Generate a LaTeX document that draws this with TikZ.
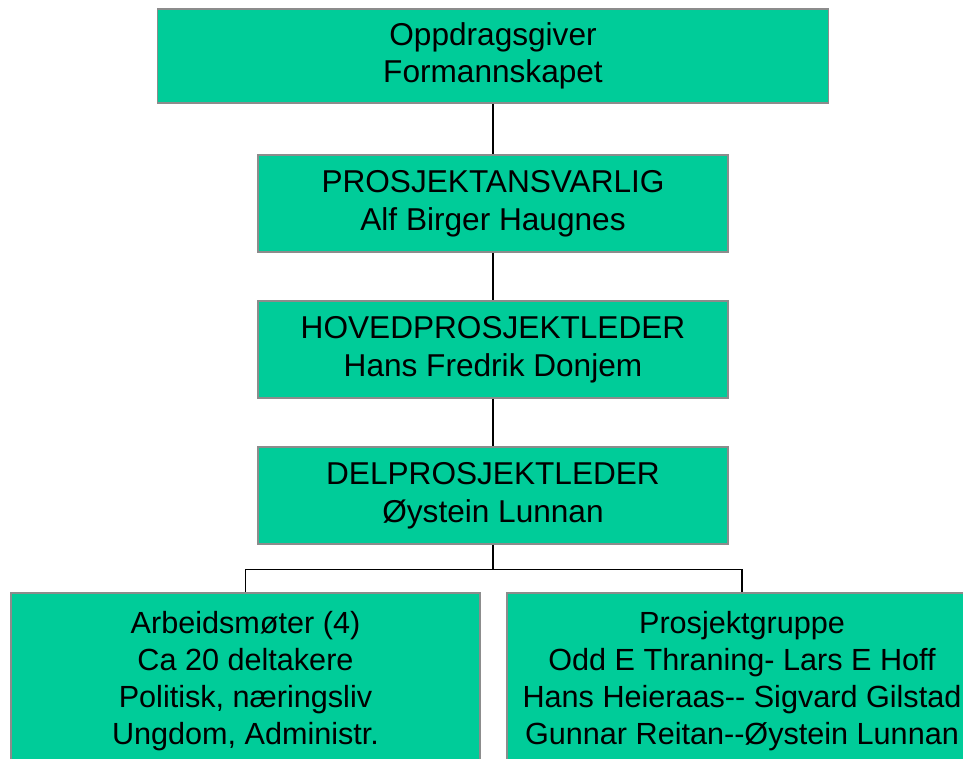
\documentclass[tikz,border=0pt]{standalone}
\usepackage{fontspec}
\setmainfont{Liberation Sans}
\definecolor{boxgreen}{RGB}{0,204,153}
\definecolor{boxedge}{RGB}{140,140,140}
\begin{document}
\begin{tikzpicture}[x=1pt,y=-1pt,
  orgbox/.style={draw=boxedge, line width=1.5pt, fill=boxgreen, inner sep=0pt,
    align=center, font=\fontsize{31.6}{37.5}\selectfont, text=black},
  lowbox/.style={orgbox, font=\fontsize{30.6}{37}\selectfont},
  link/.style={draw=black, line width=1.3pt}]
\useasboundingbox (0,0) rectangle (963,758);
\clip (0,0) rectangle (963,758);
\node[orgbox, minimum width=671pt, minimum height=94pt] (o) at (493,56)
  {Oppdragsgiver\\Formannskapet};
\node[orgbox, minimum width=470pt, minimum height=97pt] (pa) at (493,203.5)
  {PROSJEKTANSVARLIG\\Alf Birger Haugnes};
\node[orgbox, minimum width=470pt, minimum height=97pt] (hp) at (493,349.5)
  {HOVEDPROSJEKTLEDER\\Hans Fredrik Donjem};
\node[orgbox, minimum width=470pt, minimum height=97pt] (dp) at (493,495.5)
  {DELPROSJEKTLEDER\\Øystein Lunnan};
\node[lowbox, minimum width=469pt, minimum height=176pt] (am) at (245.5,681)
  {Arbeidsmøter (4)\\Ca 20 deltakere\\Politisk, næringsliv\\Ungdom, Administr.};
\node[lowbox, minimum width=470pt, minimum height=176pt] (pg) at (742,681)
  {Prosjektgruppe\\Odd E Thraning- Lars E Hoff\\Hans Heieraas-\kern0pt- Sigvard Gilstad\\Gunnar Reitan-\kern0pt-Øystein Lunnan};
\draw[link] (o.south) -- (pa.north);
\draw[link] (pa.south) -- (hp.north);
\draw[link] (hp.south) -- (dp.north);
\draw[link] (dp.south) -- ++(0,25) -| (am.north);
\draw[link] (dp.south) -- ++(0,25) -| (pg.north);
\end{tikzpicture}
\end{document}
